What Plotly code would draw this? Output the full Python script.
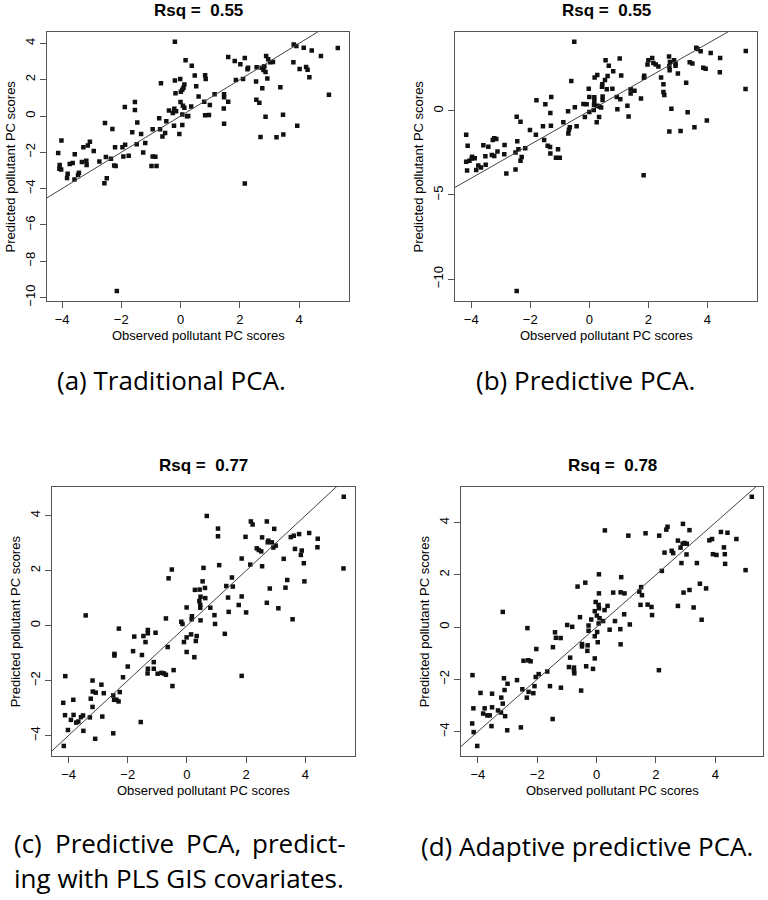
import plotly.graph_objects as go

# values (observed vs predicted PC scores)
obs_a = [-0.19, 1.61, 0.17, 0.38, 1.83, 2.02, 2.17, 2.26, 2.28, 2.57, 2.74, 2.80, 2.83, 2.89, 2.96, 3.03,
         3.12, 2.87, 2.93, 3.82, 3.91, 3.81, 4.16, 4.43, 4.74, 5.31, 4.02, 4.24, 4.29, 4.35, 5.01, 3.37,
         3.94, 3.46, 3.47, 3.24, 2.70, 2.87, 2.17, 2.55, 2.76, 2.56, 2.66, 2.11, 1.87, 1.61, 1.47, 1.47,
         1.15, 1.46, 1.47, 0.83, 0.85, 0.80, 0.61, 0.53, 0.48, 0.83, 0.96, 0.99, 0.13, 0.10, 0.06, 0.01,
         -0.01, -0.19, -0.17, 0.00, 0.08, 0.13, 0.36, 0.06, 0.22, 0.26, -0.21, -0.15, -0.26, -0.39, -0.48,
         -0.22, 0.06, -0.04, -0.66, -0.72, -0.69, -0.61, -0.52, -0.94, -0.94, -0.85, -0.98, -0.81, -1.33,
         -1.19, -1.26, -1.46, -1.48, -1.54, -1.54, -1.63, -1.88, -1.87, -1.96, -1.93, -1.75, -2.30, -2.55,
         -2.21, -2.35, -2.52, -2.24, -2.19, -2.49, -2.57, -2.15, -2.74, -2.93, -3.06, -3.13, -3.28, -3.18,
         -3.17, -3.33, -3.43, -3.46, -3.58, -3.57, -3.64, -3.74, -3.81, -3.83, -4.02, -4.13, -4.08, -4.09,
         -4.03]
pred_a = [4.09, 3.25, 3.07, 2.77, 3.03, 2.85, 3.19, 2.57, 2.66, 2.68, 2.66, 2.54, 2.74, 3.30, 3.12, 2.96,
          2.97, 2.43, 2.06, 3.94, 3.85, 2.96, 3.76, 3.61, 3.30, 3.74, 2.59, 2.70, 2.55, 2.14, 1.17, 1.59,
          -0.53, 0.07, -1.02, -1.17, -1.15, -0.04, -3.72, 1.90, 1.53, 0.89, 0.73, 2.04, 1.99, 0.78, 1.20,
          1.04, 1.20, 0.42, -0.42, 2.24, 2.04, 0.78, 1.08, 1.64, 2.23, 0.04, 0.05, 0.60, 1.73, 1.55, 1.44,
          1.33, 2.04, 1.95, 1.26, 0.77, 0.57, 0.46, 0.53, 0.09, -0.02, 0.00, 0.40, 0.26, 0.16, 0.31, -0.29,
          -0.53, -0.49, -0.99, 1.81, -0.13, -0.73, -1.13, -0.93, -0.73, -2.23, -2.24, -2.76, -2.76, -0.99,
          -1.48, -2.01, -0.36, -1.55, 0.77, 0.33, -0.89, 0.49, -1.59, -1.72, -2.23, -2.19, -0.71, -0.38,
          -1.72, -2.35, -2.26, -2.72, -2.76, -3.43, -3.70, -9.64, -2.50, -1.93, -1.42, -1.62, -1.72, -2.46,
          -2.70, -2.54, -3.12, -3.25, -3.50, -2.10, -2.59, -2.65, -3.18, -3.41, -1.35, -2.04, -2.70, -2.90,
          -2.94]

obs_b = [-0.51, 0.55, 0.66, 1.03, 0.81, 1.08, 0.62, 0.27, 0.18, -0.61, 0.53, 0.44, 0.43, 0.59, 0.78, -0.02,
         0.00, 0.17, 0.17, 0.45, 0.45, -0.20, -0.09, 0.16, 0.27, 0.34, 0.40, 0.00, 0.15, -0.15, 0.33, 0.25,
         -0.72, -0.49, -0.43, -0.66, -0.69, -0.71, -0.88, 0.95, 1.05, 0.93, 1.29, 1.33, 1.40, 1.40, 1.53,
         1.75, 1.85, 1.86, 1.97, 2.00, 2.13, 2.17, 2.25, 2.34, 2.43, 2.51, 2.51, 2.54, 2.70, 2.73, 2.71,
         2.72, 2.78, 2.71, 2.87, 2.92, 2.92, 3.00, 3.09, 3.28, 3.33, 3.40, 3.49, 3.56, 3.62, 3.67, 3.77,
         3.86, 3.94, 3.98, 4.11, 4.43, 4.42, 5.30, 5.29, 1.84, -1.29, -1.32, -1.49, -1.79, -1.57, -1.30,
         -1.81, -1.53, -1.41, -1.33, -1.32, -1.06, -1.13, -1.00, -2.01, -2.17, -2.33, -2.46, -2.44, -2.40,
         -2.50, -2.29, -2.33, -2.50, -2.81, -2.46, -2.87, -2.88, -3.15, -3.22, -3.27, -3.11, -3.30, -3.22,
         -3.42, -3.59, -3.52, -3.51, -3.76, -3.67, -3.83, -3.97, -3.88, -3.98, -4.06, -4.17, -4.17, -4.12,
         -4.14]
pred_b = [4.11, 3.01, 2.68, 3.11, 2.36, 2.11, 2.07, 2.13, 1.99, 1.77, 1.83, 1.59, 1.44, 1.28, 1.32, 1.32,
          0.83, 0.81, 0.61, 0.85, 0.65, 0.41, 0.39, 0.37, 0.30, 0.26, 0.20, -0.06, 0.06, -0.37, -0.37, -0.67,
          -0.02, 0.22, -0.91, -0.98, -1.12, -1.34, -0.67, 0.10, 0.69, 0.83, 0.30, -0.33, 1.04, 1.28, 1.20,
          0.73, 1.97, 2.09, 2.76, 3.01, 3.15, 2.85, 2.76, 2.64, 1.99, 1.59, 1.12, 0.94, 3.23, 2.91, 2.66,
          2.42, 0.12, -1.22, 3.01, 2.81, 2.68, 2.22, -1.20, 1.67, -0.08, 2.89, 2.81, -0.98, 3.76, 3.68, 3.54,
          2.56, 2.50, -0.57, 3.44, 3.15, 2.30, 3.56, 1.30, -3.82, 0.83, -0.12, 0.39, 0.63, -0.91, -0.89,
          -1.42, -1.73, -2.07, -2.15, -2.54, -2.28, -2.78, -2.78, -1.14, -2.22, -0.65, -0.35, -1.81, -2.28,
          -2.48, -2.74, -2.97, -3.48, -3.72, -10.71, -2.03, -2.58, -1.67, -1.63, -1.73, -2.42, -2.62, -2.68,
          -2.13, -2.05, -2.70, -3.21, -3.25, -3.37, -3.52, -2.72, -2.82, -2.83, -2.97, -3.03, -1.42, -2.07,
          -3.54]

obs_c = [5.30, 5.29, 0.67, 1.05, 1.05, 1.09, 2.16, 2.22, 1.98, 2.14, 1.85, 2.70, 2.54, 2.75, 2.73, 2.87,
         2.95, 2.92, 3.00, 2.36, 2.43, 2.51, 2.54, 3.51, 3.61, 3.79, 4.13, 4.42, 4.41, 3.65, 3.88, 3.85,
         3.95, 3.97, 3.27, 3.39, 3.33, 3.57, 3.09, 2.80, 2.70, 1.85, 1.52, 1.55, 1.33, 1.39, 1.41, 1.75,
         1.85, 2.00, 1.28, 0.56, 0.53, 0.61, 0.62, 0.27, 0.43, 0.46, 0.42, 0.45, 0.45, 0.46, 0.79, 0.93,
         0.95, 0.17, 0.16, 0.14, 0.33, 0.30, 0.25, -0.01, -0.19, -0.15, -0.10, -0.01, -0.01, -0.51, -0.62,
         -0.71, -0.65, -0.45, -0.49, -1.32, -1.32, -1.06, -1.47, -1.40, -1.52, -1.82, -1.78, -1.32, -1.33,
         -1.12, -1.12, -0.99, -0.86, -0.78, -0.71, -1.56, -2.30, -2.45, -2.45, -2.00, -2.16, -2.27, -2.49,
         -2.46, -2.38, -2.31, -2.49, -3.42, -3.19, -3.18, -3.08, -2.89, -2.81, -2.86, -3.25, -3.19, -3.28,
         -3.10, -3.51, -3.58, -3.50, -3.84, -3.83, -3.92, -3.74, -3.67, -4.02, -4.11, -4.18, -4.12, -4.16]
pred_c = [4.69, 2.08, 3.99, 3.53, 3.25, 2.20, 3.79, 3.68, 3.23, 2.22, 2.44, 3.79, 3.21, 3.09, 3.03, 3.03,
          3.52, 2.84, 2.91, 2.81, 2.75, 2.70, 2.16, 3.22, 3.27, 3.33, 3.37, 3.16, 2.85, 2.79, 2.73, 2.57,
          2.27, 1.61, 2.43, 1.66, 1.38, 0.23, 0.63, 1.35, 0.83, -1.83, 1.75, 1.42, 1.44, 1.02, 0.50, 0.75,
          1.06, 0.48, -0.30, 2.10, 1.61, 1.37, 1.00, 1.30, 1.31, 1.05, 0.89, 0.75, 0.65, 0.19, 0.65, 0.38,
          0.06, 0.34, 0.23, -0.32, -0.38, -0.56, -1.15, 0.66, 0.14, 0.06, -0.60, -0.43, -0.96, 2.04, 1.72,
          0.26, -0.78, -1.62, -2.20, -0.16, -0.28, -0.26, -0.38, -0.60, -1.07, -0.93, -0.40, -1.57, -1.74,
          -1.33, -1.57, -1.75, -1.72, -1.74, -1.79, -3.51, -0.11, -1.03, -1.09, -1.49, -1.88, -2.42, -2.54,
          -2.70, -2.70, -2.76, -3.92, 0.37, -2.00, -2.40, -2.44, -2.15, -2.46, -3.31, -2.66, -2.96, -3.34,
          -4.12, -3.27, -3.33, -3.83, -2.70, -3.25, -3.43, -3.53, -3.49, -3.80, -1.84, -2.81, -3.26, -4.38]

obs_d = [5.23, 5.02, 0.28, 1.07, 1.65, 2.11, 2.35, 2.39, 2.91, 3.13, 2.74, 2.83, 2.90, 2.96, 3.04, 2.29,
         2.53, 2.58, 2.86, 3.03, 3.38, 2.20, 3.80, 3.89, 4.19, 4.41, 4.71, 3.92, 4.04, 4.29, 4.32, 4.33,
         3.48, 3.69, 3.13, 2.93, 2.74, 3.27, 3.54, 2.10, 0.83, 0.81, 0.94, 0.56, 1.44, 1.50, 1.53, 1.48,
         1.72, 1.85, 1.87, 0.93, 1.12, 0.80, 0.81, 0.08, 0.08, -0.03, 0.07, 0.08, 0.37, 0.27, -0.06, 0.01,
         0.10, 0.22, -0.18, 0.07, -0.27, -0.27, -0.06, 0.02, 0.04, -0.06, -0.30, -0.31, -0.35, -0.12, 0.44,
         0.62, -0.64, -0.38, -0.56, -0.49, -0.49, -0.52, -0.99, -0.82, -0.89, -0.93, -0.76, -0.76, -0.75,
         -1.40, -1.37, -1.21, -1.47, -1.20, -1.57, -1.66, -1.48, -2.03, -2.09, -2.13, -2.05, -1.95, -2.33,
         -2.46, -2.30, -2.22, -2.50, -2.29, -2.35, -2.68, -2.55, -3.16, -3.12, -3.10, -3.00, -3.21, -3.16,
         -3.32, -3.22, -3.08, -3.01, -3.52, -3.52, -3.54, -3.91, -3.77, -3.82, -3.68, -3.60, -4.18, -4.15,
         -4.19, -4.14, -4.02]
pred_d = [4.99, 2.18, 3.70, 3.50, 3.59, 3.50, 3.73, 3.84, 3.95, 3.71, 3.31, 3.04, 3.19, 3.22, 3.19, 2.85,
          2.92, 2.83, 2.45, 2.78, 2.45, 2.15, 3.32, 3.37, 3.64, 3.61, 3.37, 2.79, 2.76, 3.05, 2.79, 2.42,
          1.66, 1.48, 1.42, 1.32, 0.81, 0.75, 0.28, -1.65, 1.91, 1.33, 1.29, 1.32, 1.36, 1.53, 1.22, 0.85,
          0.86, 0.77, 0.46, 0.49, 0.10, -0.08, -0.66, 2.02, 1.29, 0.96, 0.85, 0.72, 0.81, 0.65, 0.61, 0.44,
          0.34, 0.23, 0.29, 0.14, 0.06, -0.14, -0.35, -0.19, -0.58, -1.20, -0.70, -0.91, -1.50, -1.60, -0.10,
          0.23, 1.55, 1.70, 0.38, -0.65, -0.74, -2.43, 0.08, 0.01, -1.17, -1.53, -1.55, -1.67, -1.77, -0.20,
          -0.41, -0.42, -0.77, -2.32, -2.26, -1.70, -3.52, -0.84, -2.26, -2.53, -1.91, -1.80, -0.04, -1.29,
          -1.27, -1.31, -2.38, -2.48, -2.70, -2.03, -3.84, 0.58, -1.96, -2.41, -2.17, -2.70, -2.93, -3.19,
          -3.27, -3.41, -3.95, -2.55, -3.07, -3.79, -2.52, -3.11, -3.31, -3.38, -3.38, -1.84, -3.11, -3.69,
          -4.02, -4.55]

rsq = [0.55, 0.55, 0.77, 0.78]
y_ticks = [[-10, -8, -6, -4, -2, 0, 2, 4], [-10, -5, 0], [-4, -2, 0, 2, 4], [-4, -2, 0, 2, 4]]
x_ticks = [-4, -2, 0, 2, 4]
ref_line = (0.0, 1.0)  # intercept, slope of the 1:1 line

W, H = 768, 900
# plot boxes in pixels: left, right, top, bottom
BOXES = [(47, 349, 32, 303), (455, 757, 32, 303), (52, 355, 490, 761), (461, 763, 490, 761)]

AXIS_FONT = dict(family="Liberation Sans, Arial, sans-serif", size=13, color="black")
CAP_FONT = dict(family="Open Sans, Noto Sans, sans-serif", size=26, color="black")


def r_range(values):
    lo, hi = min(values), max(values)
    pad = 0.04 * (hi - lo)
    return [lo - pad, hi + pad]


def px_x(x):
    return x / W


def px_y(y):
    return 1 - y / H


fig = go.Figure()
panels = [(obs_a, pred_a), (obs_b, pred_b), (obs_c, pred_c), (obs_d, pred_d)]
annotations = []

for i, ((obs, pred), box) in enumerate(zip(panels, BOXES), 1):
    left, right, top, bottom = box
    sfx = "" if i == 1 else str(i)
    xr, yr = r_range(obs), r_range(pred)

    fig.add_trace(go.Scatter(
        x=obs, y=pred, mode="markers", xaxis="x" + sfx, yaxis="y" + sfx,
        marker=dict(symbol="square", size=4.5, color="#111111", line=dict(width=0)),
        hoverinfo="skip", showlegend=False,
    ))
    a, b = ref_line
    fig.add_trace(go.Scatter(
        x=xr, y=[a + b * v for v in xr], mode="lines", xaxis="x" + sfx, yaxis="y" + sfx,
        line=dict(color="#444444", width=1), hoverinfo="skip", showlegend=False,
    ))

    common = dict(showline=True, mirror=True, linecolor="#555555", linewidth=1,
                  ticks="outside", ticklen=6, tickcolor="#555555", showgrid=False,
                  zeroline=False, tickfont=AXIS_FONT, fixedrange=True)
    fig.update_layout({
        "xaxis" + sfx: dict(domain=[px_x(left), px_x(right)], range=xr, anchor="y" + sfx,
                            tickvals=x_ticks, **common),
        "yaxis" + sfx: dict(domain=[px_y(bottom), px_y(top)], range=yr, anchor="x" + sfx,
                            tickvals=y_ticks[i - 1], tickangle=-90, **common),
    })

    cx, cy = (left + right) / 2, (top + bottom) / 2
    annotations += [
        dict(x=px_x(cx), y=px_y(top - 21), text=f"<b>Rsq =\u00a0 {rsq[i - 1]:.2f}</b>",
             font=dict(family="Liberation Sans, Arial, sans-serif", size=17, color="black")),
        dict(x=px_x(cx), y=px_y(bottom + 35), text="Observed pollutant PC scores", font=AXIS_FONT),
        dict(x=px_x(left - 37), y=px_y(cy), text="Predicted pollutant PC scores",
             textangle=-90, font=AXIS_FONT),
    ]

# sub-figure captions
annotations += [
    dict(x=px_x(55), y=px_y(383), text="(a) Traditional PCA.", xanchor="left", font=CAP_FONT),
    dict(x=px_x(474), y=px_y(383), text="(b) Predictive PCA.", xanchor="left", font=CAP_FONT),
    dict(x=px_x(419), y=px_y(852), text="(d) Adaptive predictive PCA.", xanchor="left", font=CAP_FONT),
    dict(x=px_x(12), y=px_y(884), text="ing with PLS GIS covariates.", xanchor="left", font=CAP_FONT),
]
# first line of caption (c) is justified: place its words at their columns
cap_c_words = ["(c)", "Predictive", "PCA,", "predict-"]
cap_c_left = [12, 53, 184, 250]
for word, x in zip(cap_c_words, cap_c_left):
    annotations.append(dict(x=px_x(x), y=px_y(849), text=word, xanchor="left", font=CAP_FONT))

for ann in annotations:
    ann.setdefault("xanchor", "center")
    ann.update(xref="paper", yref="paper", yanchor="middle", showarrow=False)

fig.update_layout(
    width=W, height=H, margin=dict(l=0, r=0, t=0, b=0),
    paper_bgcolor="white", plot_bgcolor="white",
    annotations=annotations,
)

# drop the page's default body margin so the figure fills the window exactly
fig.write_html("out.html", config={"displayModeBar": False},
               post_script="document.body.style.margin = '0';")
